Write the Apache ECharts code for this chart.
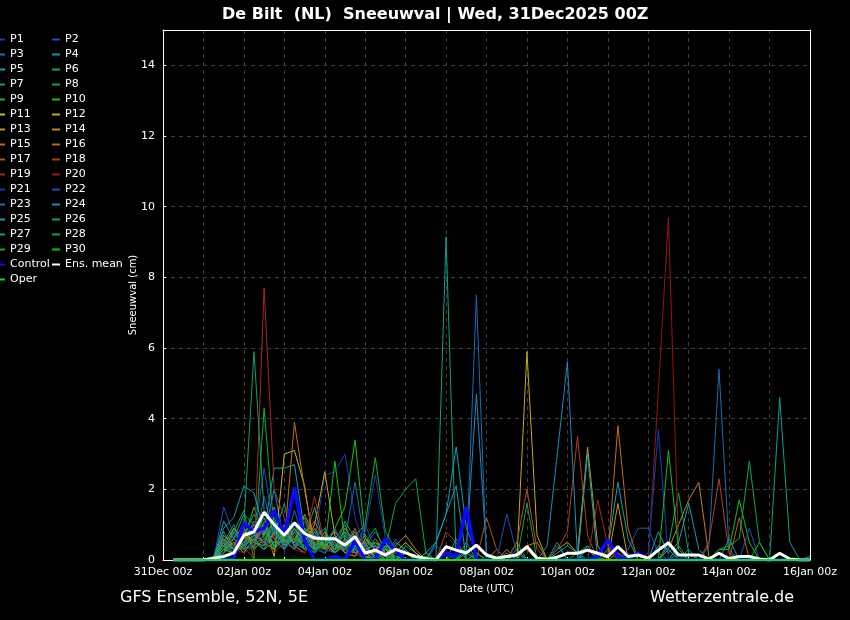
<!DOCTYPE html>
<html>
<head>
<meta charset="utf-8">
<script src="https://cdn.jsdelivr.net/npm/echarts@6/dist/echarts.min.js"></script>
<style>
  html, body { margin: 0; padding: 0; background: #000; }
  #chart { width: 850px; height: 620px; }
</style>
</head>
<body>
<div id="chart"></div>
<script>
// 6-hourly steps, first value at +6h (31Dec 06z), last at +384h (16Jan 00z)
var stepHours = 6;
var tickLabels = ['31Dec 00z', '02Jan 00z', '04Jan 00z', '06Jan 00z', '08Jan 00z',
                  '10Jan 00z', '12Jan 00z', '14Jan 00z', '16Jan 00z'];

// snowfall (cm) per member, one group of four per day
var p1  = [0,0,0,0, 0,.3,.6,.4, .9,.5,1.2,.4, .8,.3,.6,2.4, 2.5,3.0,1.2,.3, .2,.4,0,0, 0,0,0,0, 0,.2,0,0, 0,0,0,0, 0,0,0,0, 0,0,0,.3, 0,.2,0,0, 0,0,0,0, 0,0,0,0, 0,0,0,0, 0,0,0,0];
var p2  = [0,0,0,0, 0,1.5,.7,.5, .6,1.0,.4,.8, .5,1.1,.3,.2, .4,.8,.2,0, .3,0,.6,.2, 0,0,.4,.2, 0,0,0,0, 0,.3,0,0, 0,0,.4,0, 0,0,0,0, 0,.3,.9,.9, .2,0,0,0, 0,0,0,0, 0,0,0,0, 0,0,0,0];
var p3  = [0,0,0,0, 0,.4,.2,.9, .3,1.8,.6,.3, 1.4,.5,.9,.3, .2,.6,2.2,.4, .8,.3,.1,0, 0,.1,0,0, 0,0,0,0, 0,0,0,0, 0,0,0,0, 0,0,0,0, 0,0,0,0, 0,0,.2,0, 0,.4,5.4,.3, 0,0,0,0, 0,0,0,0];
var p4  = [0,0,0,0, .1,.8,.3,.5, 1.1,.7,2.0,.5, .6,.9,.2,.7, .5,.3,.9,.2, 0,.4,.3,0, 0,0,0,0, .2,.3,4.7,.2, 0,0,.3,0, 0,0,0,0, 0,.4,0,0, 0,0,0,0, 0,.5,0,0, 0,0,0,0, 0,0,0,0, 0,0,0,0];
var p5  = [0,0,0,0, 0,1.1,.6,1.3, 1.0,.8,2.6,2.6, 2.7,.8,.4,.6, .3,.5,.8,.2, 0,.3,.1,0, 0,.2,.5,1.3, 3.2,.9,.2,0, 0,0,0,0, 0,0,.2,.4, .2,0,0,.3, 2.2,.6,0,0, .4,.3,0,0, 0,0,0,0, 0,0,0,0, 0,0,0,0];
var p6  = [0,0,0,0, 0,.2,.9,.4, .7,1.2,.3,.9, .4,.6,1.5,.3, .9,.2,.4,.7, .3,.6,0,0, 0,0,0,9.15, 0,0,0,0, 0,.2,0,0, 0,0,0,0, 0,0,0,0, 0,0,0,0, 0,0,.4,0, 0,0,0,0, 0,0,0,0, 0,0,0,0];
var p7  = [0,0,0,0, 0,.5,1.0,.3, .8,.4,.7,1.6, .3,.9,.2,.5, .6,1.0,.3,.2, .2,0,.5,.3, 0,0,0,0, .6,0,0,0, 0,0,0,0, 0,0,0,0, 0,.3,0,0, 0,0,.2,0, 0,.4,1.9,.2, 0,0,0,0, 0,0,0,0, 0,0,0,0];
var p8  = [0,0,0,0, 0,.3,.2,.7, 1.3,.6,.9,.4, 1.0,.5,.3,.8, .4,.7,.3,.5, .9,.2,0,.4, .2,0,0,0, 0,.5,0,0, 0,0,0,1.6, 0,0,0,0, .2,.4,0,0, 0,0,0,0, 0,0,0,0, 0,0,0,0, 0,0,0,0, 0,0,0,0];
var p9  = [0,0,0,0, 0,.2,.8,1.4, 0,4.3,.8,.8, .6,.3,.9,.4, .3,1.1,.6,.2, .5,.3,0,0, 0,0,0,0, 0,.3,0,0, 0,0,.5,0, 0,0,0,0, 0,0,0,0, 0,0,0,0, 0,0,0,0, 0,0,0,0, 0,0,0,0, 0,0,0,0];
var p10 = [0,0,0,0, 0,.4,.3,.6, 1.5,.7,1.1,.5, .8,1.2,.4,.3, .9,1.5,3.4,.6, .4,.2,.3,0, 0,0,0,0, 0,0,.2,0, 0,0,0,0, 0,0,0,0, 0,0,0,0, 0,0,0,0, 0,0,0,0, 0,0,.3,.3, 1.7,.5,0,0, 0,0,0,0];
var p11 = [0,0,0,0, 0,.6,.3,.8, .5,1.0,.1,3.0, 3.1,2.1,.3,.5, .2,.4,.6,.1, 0,.3,.2,.5, .2,0,0,0, 0,0,0,0, 0,0,.2,.3, 0,0,0,0, 0,0,0,0, 0,0,0,0, 0,0,0,0, 0,0,0,0, 0,0,0,0, 0,0,0,0];
var p12 = [0,0,0,0, 0,.3,.5,.2, .6,.3,.8,.4, .9,.5,1.0,2.5, .7,.3,.2,.4, .1,0,0,.2, 0,0,0,0, 0,0,0,0, 0,0,0,5.9, .7,0,0,0, 0,0,0,0, 0,0,0,0, 0,0,0,0, 0,0,0,0, 0,0,0,0, 0,0,0,0];
var p13 = [0,0,0,0, 0,.7,.4,.9, .3,.6,.5,1.0, .4,.2,.7,.3, .5,.2,.1,.6, .3,.5,0,0, 0,0,0,0, 0,0,0,0, 0,0,.2,0, 0,0,.3,.5, .2,3.2,.4,0, 1.6,0,0,0, 0,0,0,0, 0,0,0,0, 0,0,0,0, 0,0,0,0];
var p14 = [0,0,0,0, 0,.4,.9,.6, .8,.5,.3,.7, .5,1.3,.6,.4, .3,.9,.5,.2, .6,.2,.4,.7, .3,0,0,0, 0,0,0,0, 0,0,0,.4, .5,0,0,0, 0,0,0,0, .2,0,0,0, 0,.3,1.0,1.7, 2.2,.1,0,0, 0,0,0,0, 0,0,0,0];
var p15 = [0,0,0,0, 0,.5,.2,.4, 1.0,.7,1.5,.5, 3.9,2.0,.4,.8, .2,.5,.3,0, .4,.1,0,0, 0,0,0,0, 0,0,0,0, .3,0,0,0, 0,0,0,0, 0,0,0,.1, 3.8,.9,0,0, 0,0,0,0, 0,0,0,0, 0,0,0,0, 0,0,0,0];
var p16 = [0,0,0,0, 0,.2,.6,.3, .5,.9,.4,.6, .3,.7,1.1,.5, .8,.4,.6,.3, .2,.6,.2,0, 0,0,0,0, 0,0,0,0, 0,.3,0,0, 0,0,0,0, 0,0,0,0, 0,0,0,0, 0,0,0,0, 0,0,0,0, 1.2,0,0,0, 0,0,0,0];
var p17 = [0,0,0,0, 0,.3,.4,.8, .4,1.1,.6,.3, .7,.4,.9,.6, .3,.6,.2,.5, .4,0,.3,0, 0,0,0,0, 0,0,0,1.2, .3,0,.5,2.0, .3,0,0,0, 0,0,0,0, 0,0,0,0, 0,0,0,0, 0,0,0,0, 0,0,0,0, 0,0,0,0];
var p18 = [0,0,0,0, 0,.6,.3,.5, .9,.4,.7,.5, .3,.8,.5,.3, .6,.3,.8,.4, 0,.2,0,0, 0,0,0,.8, .5,0,0,0, 0,0,0,0, 0,0,.3,.8, 3.5,.7,0,0, 0,0,0,0, 0,0,0,0, 0,.5,2.3,.2, 0,0,0,0, 0,0,0,0];
var p19 = [0,0,0,0, 0,.2,.5,.4, 0,7.7,2.0,1.2, .4,.6,1.8,.4, .3,.5,.9,.2, .6,.3,0,0, 0,0,0,0, 0,0,0,0, 0,0,0,0, 0,0,0,0, 0,0,1.7,.4, 0,0,0,0, 0,0,0,0, 0,0,0,0, 0,0,0,0, 0,0,0,0];
var p20 = [0,0,0,0, 0,.1,.3,.2, .4,.6,.2,.5, .3,.2,.6,.3, .2,.4,.1,.3, 0,.2,0,0, 0,0,0,0, 0,0,0,0, 0,0,0,0, 0,0,0,0, 0,0,0,0, 0,0,0,0, 4.8,9.7,.3,0, 0,0,0,0, 0,0,0,0, 0,0,0,0];
var p21 = [0,0,0,0, 0,.3,.7,.5, .4,.9,.5,.3, .6,.4,.8,.5, .9,.3,.5,.8, 2.4,.6,.3,0, 0,0,0,0, 0,0,0,0, 0,0,0,0, 0,0,0,0, 0,0,0,0, 0,0,0,.2, 3.7,0,0,0, 0,0,0,0, 0,0,0,0, 0,0,0,0];
var p22 = [0,0,0,0, 0,.5,.2,.9, .6,2.6,.8,.4, 1.0,.5,.3,.7, .4,.8,.3,1.0, .3,0,.4,0, 0,0,0,0, 0,0,0,0, 0,1.3,.2,0, 0,0,0,0, 0,0,0,0, 0,0,0,0, 0,0,0,0, 0,0,0,0, 0,.9,0,0, 0,0,0,0];
var p23 = [0,0,0,0, 0,.2,.4,.3, .5,.3,.9,.6, .3,.7,.4,.2, .6,.4,.2,.3, .1,0,0,0, 0,0,0,0, 0,0,7.5,0, 0,0,0,0, 0,0,0,0, 0,0,0,0, 0,0,0,0, 0,0,0,0, 0,0,0,0, 0,0,0,0, 0,0,0,0];
var p24 = [0,0,0,0, 0,.6,.3,.4, .7,.5,1.0,.3, .8,.3,.6,.9, .2,.5,.7,.3, .4,.2,0,.3, 0,0,0,0, 0,0,0,0, 0,0,0,0, 0,.4,3.0,5.6, .1,0,0,0, 0,0,0,0, 0,0,0,0, 0,0,0,.6, 0,0,0,0, 0,0,0,0];
var p25 = [0,0,0,0, 0,.9,1.2,2.1, 1.9,.8,.4,.6, .5,.3,.8,.4, .7,.2,.3,.5, 0,.3,0,0, 0,0,.5,1.3, 2.1,0,0,0, 0,0,0,0, 0,0,0,0, 0,3.0,0,0, 0,0,0,0, .8,.2,.5,1.6, .3,0,0,0, 0,0,0,0, 0,0,0,0];
var p26 = [0,0,0,0, 0,.3,.8,.4, .6,.3,.5,.9, .4,.8,.3,.6, .3,.5,.2,.4, .5,.1,0,0, 0,0,0,0, 0,.2,0,0, 0,0,0,0, 0,0,0,0, 0,0,0,0, 0,0,0,0, 0,0,0,0, 0,0,0,0, 0,0,0,0, 4.6,.5,0,.1];
var p27 = [0,0,0,0, 0,.4,.6,1.0, 5.9,1.4,.8,.5, .6,.4,.2,.7, .3,.8,.5,.2, .2,.4,0,0, 0,0,0,0, 0,0,0,0, 0,0,0,0, 0,0,.5,0, 0,0,0,0, 0,0,0,0, 0,0,0,.3, 0,0,0,0, 0,0,0,0, 0,0,0,0];
var p28 = [0,0,0,0, 0,.2,.5,.3, .4,.7,.3,.6, .9,.3,.5,.4, .2,.6,.4,.3, .5,.3,1.6,2.0, 2.3,.2,0,0, 0,0,0,0, 0,0,0,0, 0,0,0,0, 0,0,0,0, 0,0,0,0, 0,0,0,0, 0,0,.3,.4, .6,2.8,.5,0, 0,0,0,0];
var p29 = [0,0,0,0, 0,.5,.3,.7, .5,.4,1.2,.4, .6,.5,.3,.6, .4,.3,.7,1.0, 2.9,.8,.3,0, 0,.2,0,0, 0,0,0,0, 0,0,0,0, 0,0,0,0, 0,0,0,0, 0,0,0,0, 0,0,0,0, 0,0,0,0, 0,0,.5,0, 0,0,0,0];
var p30 = [0,0,0,0, 0,.3,.2,.5, .7,1.0,.4,.8, .5,.9,.6,.3, 2.8,.5,.4,.2, .3,0,.2,0, 0,0,0,0, 0,0,0,0, 0,0,0,0, 0,0,0,0, 0,0,0,0, 0,0,0,0, 0,3.1,.3,0, 0,0,0,0, 0,0,0,0, 0,0,0,0];
var control = [0,0,0,0, 0,0,.05,1.05, .8,.9,1.4,.7, 2.05,.55,0,0, .1,0,.55,0, 0,.6,.25,0, 0,0,0,.2, .1,1.5,0,0, 0,0,0,0, 0,0,0,0, 0,0,.1,.57, .1,0,.2,0, 0,0,0,0, 0,0,0,0, 0,0,0,0, 0,0,0,0];
var ensMean = [0,0,0,0, .05,.1,.2,.7, .8,1.35,1.0,.7, 1.05,.75,.62,.6, .6,.42,.66,.2, .28,.14,.3,.2, .1,.04,0,.38, .28,.2,.42,.14, .05,.1,.14,.38, .05,.02,.08,.19, .19,.28,.19,.1, .38,.1,.14,.05, .28,.49,.14,.14, .14,.03,.19,.04, .1,.1,.03,0, .19,.03,0,0];
var oper = [0,0,0,0, 0,0,0,0, 0,0,0,0, 0,0,0,0, 0,0,0,0, 0,0,0,0, 0,0,0,0, 0,0,0,0, 0,0,0,0, 0,0,0,0, 0,0,0,0, 0,0,0,0, 0,0,0,0, 0,0,0,0, 0,0,0,0, 0,0,0,0];

var members = [p1, p2, p3, p4, p5, p6, p7, p8, p9, p10, p11, p12, p13, p14, p15,
               p16, p17, p18, p19, p20, p21, p22, p23, p24, p25, p26, p27, p28, p29, p30];

// member colours, repeated for P21..P30
var palette = ['#1a3cb8', '#1a50bc', '#1a6cb4', '#1a8cc0', '#12a0b0', '#10a088', '#10a068', '#10a84c', '#10b030', '#18c018',
               '#c0c018', '#c0ac18', '#c09818', '#c08418', '#c07018', '#c06018', '#b85018', '#b04020', '#a02c20', '#901818'];

function toPairs(vals) {
  return vals.map(function(v, i) { return [(i + 1) * stepHours, v]; });
}

var series = [];
var leftCol = [], rightCol = [];
members.forEach(function(vals, i) {
  var name = 'P' + (i + 1);
  var col = palette[i % 20];
  series.push({
    name: name, type: 'line', data: toPairs(vals), symbol: 'none', silent: true,
    lineStyle: { width: 1, color: col }, itemStyle: { color: col }
  });
  (i % 2 === 0 ? leftCol : rightCol).push(name);
});
series.push({ name: 'Control', type: 'line', data: toPairs(control), symbol: 'none', silent: true,
  lineStyle: { width: 3.5, color: '#0a0aff' }, itemStyle: { color: '#0a0aff' } });
series.push({ name: 'Ens. mean', type: 'line', data: toPairs(ensMean), symbol: 'none', silent: true,
  lineStyle: { width: 3, color: '#ffffff' }, itemStyle: { color: '#ffffff' } });
series.push({ name: 'Oper', type: 'line', data: toPairs(oper), symbol: 'none', silent: true,
  lineStyle: { width: 2, color: '#10e010' }, itemStyle: { color: '#10e010' } });
leftCol.push('Control', 'Oper');
rightCol.push('Ens. mean');

var legendBase = {
  orient: 'vertical', top: 32, padding: 0, itemWidth: 8, itemHeight: 2, itemGap: 0, icon: 'rect',
  selectedMode: false,
  textStyle: { color: '#fff', fontSize: 11, lineHeight: 15 }
};

// plain white frame lines on the top and right of the plot
var frameAxis = {
  type: 'value', axisLine: { show: true, onZero: false, lineStyle: { color: '#fff' } },
  axisTick: { show: false }, axisLabel: { show: false }, splitLine: { show: false }
};

var chart = echarts.init(document.getElementById('chart'), null, { renderer: 'canvas' });
chart.setOption({
  animation: false,
  backgroundColor: '#000',
  textStyle: { fontFamily: 'DejaVu Sans' },
  title: {
    text: 'De Bilt  (NL)  Sneeuwval | Wed, 31Dec2025 00Z',
    left: 217, top: 2,
    textStyle: { color: '#fff', fontSize: 16, fontWeight: 'bold', fontFamily: 'DejaVu Sans' }
  },
  legend: [
    Object.assign({}, legendBase, { left: -3, data: leftCol }),
    Object.assign({}, legendBase, { left: 52, data: rightCol })
  ],
  grid: { left: 163, right: 40, top: 30, bottom: 60 },
  xAxis: [{
    type: 'value', min: 0, max: 384, interval: 24,
    name: 'Date (UTC)', nameLocation: 'middle', nameGap: 24, nameMoveOverlap: false,
    nameTextStyle: { color: '#fff', fontSize: 10 },
    axisLine: { lineStyle: { color: '#fff' } },
    axisTick: { inside: true, length: 3, lineStyle: { color: '#fff' } },
    axisLabel: {
      color: '#fff', fontSize: 11, margin: 7,
      formatter: function(v) { return v % 48 === 0 ? tickLabels[v / 48] : ''; }
    },
    splitLine: { show: true, lineStyle: { color: '#3c3c3c', type: [4, 4] } }
  }, Object.assign({}, frameAxis, { position: 'top', min: 0, max: 384 })],
  yAxis: [{
    type: 'value', min: 0, max: 15, interval: 2,
    name: 'Sneeuwval (cm)', nameLocation: 'middle', nameGap: 25, nameMoveOverlap: false,
    nameTextStyle: { color: '#fff', fontSize: 10 },
    axisLine: { show: true, lineStyle: { color: '#fff' } },
    axisTick: { show: true, inside: true, length: 3, lineStyle: { color: '#fff' } },
    axisLabel: { color: '#fff', fontSize: 11, margin: 8, showMaxLabel: false },
    splitLine: { show: true, lineStyle: { color: '#3c3c3c', type: [4, 4] } }
  }, Object.assign({}, frameAxis, { position: 'right', min: 0, max: 15 })],
  graphic: [
    { type: 'text', left: 120, top: 590, style: { text: 'GFS Ensemble, 52N, 5E', fill: '#fff', font: '16px "DejaVu Sans"' } },
    { type: 'text', left: 650, top: 590, style: { text: 'Wetterzentrale.de', fill: '#fff', font: '16px "DejaVu Sans"' } }
  ],
  series: series
});
window.addEventListener('resize', function() { chart.resize(); });
</script>
</body>
</html>
